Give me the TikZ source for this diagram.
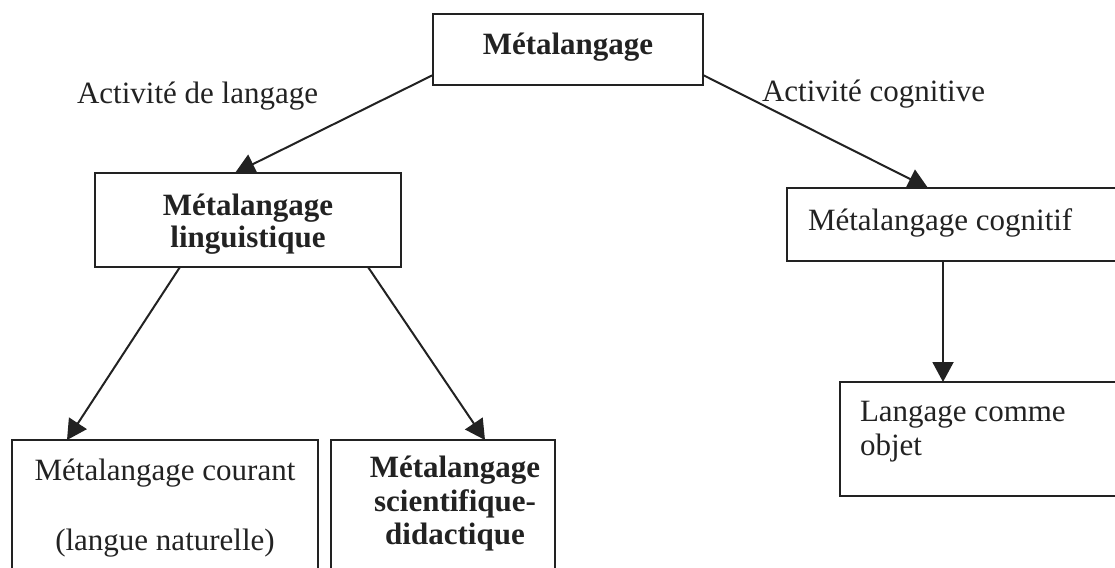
\documentclass[tikz,border=0pt]{standalone}
\usepackage{fontspec}
\setmainfont{Liberation Serif}
\usetikzlibrary{arrows.meta,calc}
\definecolor{ink}{HTML}{222222}
\tikzset{
  box/.style={draw=ink, line width=1.9pt, inner sep=0pt, outer sep=0pt, anchor=north west},
  txt/.style={text=ink, inner sep=0pt, outer sep=0pt, font=\fontsize{31pt}{35pt}\selectfont},
  conn/.style={draw=ink, line width=2pt, -{Triangle[length=20pt,width=21pt]}}
}
\begin{document}
\begin{tikzpicture}[x=1pt,y=1pt]
\useasboundingbox (0,0) rectangle (1115,-567);
\clip (0,0) rectangle (1115,-567);
% boxes
\node[box, minimum width=270, minimum height=71] (top) at (433,-14) {};
\node[box, minimum width=306, minimum height=94] (ling) at (95,-173) {};
\node[box, minimum width=306, minimum height=180] (courant) at (12,-440) {};
\node[box, minimum width=224, minimum height=180] (sci) at (331,-440) {};
\node[box, minimum width=360, minimum height=73] (cog) at (787,-188) {};
\node[box, minimum width=310, minimum height=114] (lang) at (840,-382) {};
% texts
\node[txt, anchor=base west] (lab1) at (77,-104) {Activité de langage};
\node[txt, anchor=base west] (lab2) at (762,-102) {Activité cognitive};
\node[txt, anchor=base] (ttop) at (568,-55) {\textbf{Métalangage}};
\node[txt, anchor=base] (tling) at (248,-215) {\bfseries\begin{tabular}[t]{@{}c@{}}Métalangage\\[-3pt]linguistique\end{tabular}};
\node[txt, anchor=base] (tcour) at (165,-480) {\begin{tabular}[t]{@{}c@{}}Métalangage courant\\[35pt](langue naturelle)\end{tabular}};
\node[txt, anchor=base] (tsci) at (455,-477) {\bfseries\begin{tabular}[t]{@{}c@{}}Métalangage\\[-1pt]scientifique-\\[-2pt]didactique\end{tabular}};
\node[txt, anchor=base west] (tcog) at (808,-230) {Métalangage cognitif};
\node[txt, anchor=base west] (tlang) at (860,-421) {\begin{tabular}[t]{@{}l@{}}Langage comme\\[-1pt]objet\end{tabular}};
% connectors
\draw[conn] ($(top.south west)+(0,10)$) -- ($(ling.north west)+(140,0)$);
\draw[conn] ($(top.south east)+(0,10)$) -- ($(cog.north west)+(141,0)$);
\draw[conn] ($(ling.south west)+(85,0)$) -- ($(courant.north west)+(55,0)$);
\draw[conn] ($(ling.south east)+(-33,0)$) -- ($(sci.north west)+(154,0)$);
\draw[conn] ($(cog.south west)+(156,0)$) -- ($(lang.north west)+(103,0)$);
\end{tikzpicture}
\end{document}
